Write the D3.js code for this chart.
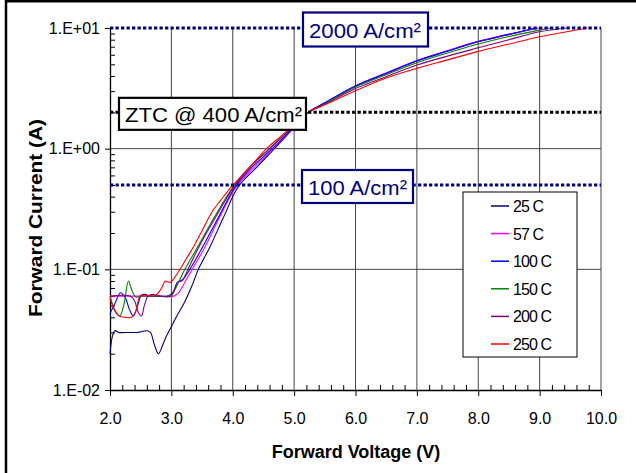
<!DOCTYPE html>
<html>
<head>
<meta charset="utf-8">
<script src="https://cdn.jsdelivr.net/npm/d3@7"></script>
<style>
body { margin: 0; background: #fff; }
text { font-family: "Liberation Sans", Arial, sans-serif; }
</style>
</head>
<body>
<div id="chart"></div>
<script>
// forward I-V curves, one pair of arrays per temperature
var volts25 = [2.0, 2.04, 2.08, 2.15, 2.3, 2.45, 2.6, 2.66, 2.72, 2.79, 2.85, 2.92, 3.0, 3.1, 3.2, 3.33, 3.44, 3.63, 3.85, 4.09, 4.4, 4.68, 5.0, 5.23, 5.5, 6.0, 6.5, 7.0, 7.5, 8.0, 8.5, 8.95];
var amps25 = [0.020, 0.028, 0.031, 0.030, 0.030, 0.030, 0.031, 0.030, 0.024, 0.020, 0.023, 0.028, 0.0335, 0.042, 0.0515, 0.072, 0.100, 0.154, 0.270, 0.484, 0.710, 1.00, 1.50, 2.00, 2.38, 3.30, 4.20, 5.33, 6.41, 7.70, 8.83, 10.0];

var volts57 = [2.0, 2.3, 2.6, 2.9, 3.04, 3.12, 3.2, 3.34, 3.55, 3.8, 4.06, 4.35, 4.66, 5.0, 5.23, 5.5, 6.0, 6.5, 7.0, 7.5, 8.0, 8.5, 9.0];
var amps57 = [0.060, 0.060, 0.060, 0.060, 0.060, 0.064, 0.075, 0.100, 0.154, 0.280, 0.484, 0.700, 1.00, 1.50, 2.00, 2.40, 3.32, 4.25, 5.38, 6.50, 7.75, 8.90, 10.0];

var volts100 = [2.0, 2.08, 2.17, 2.25, 2.32, 2.38, 2.45, 2.51, 2.57, 2.65, 2.8, 2.95, 3.03, 3.1, 3.18, 3.3, 3.5, 3.75, 4.04, 4.3, 4.64, 5.0, 5.23, 5.5, 6.0, 6.5, 7.0, 7.5, 8.0, 8.5, 8.95];
var amps100 = [0.043, 0.052, 0.064, 0.058, 0.046, 0.041, 0.050, 0.061, 0.062, 0.060, 0.060, 0.060, 0.065, 0.078, 0.082, 0.100, 0.150, 0.260, 0.484, 0.690, 1.00, 1.50, 2.00, 2.40, 3.31, 4.22, 5.35, 6.45, 7.72, 8.86, 10.0];

var volts150 = [2.0, 2.08, 2.16, 2.23, 2.3, 2.36, 2.42, 2.5, 2.7, 2.95, 3.02, 3.1, 3.22, 3.43, 3.7, 4.01, 4.3, 4.6, 5.0, 5.23, 5.5, 6.0, 6.5, 7.0, 7.5, 8.0, 8.5, 9.0, 9.17];
var amps150 = [0.060, 0.046, 0.041, 0.052, 0.080, 0.066, 0.059, 0.060, 0.060, 0.060, 0.063, 0.075, 0.100, 0.154, 0.270, 0.484, 0.720, 1.00, 1.55, 2.00, 2.36, 3.25, 4.10, 5.15, 6.20, 7.36, 8.50, 9.60, 10.0];

var volts200 = [2.0, 2.33, 2.4, 2.46, 2.51, 2.56, 2.62, 2.7, 2.8, 3.0, 3.05, 3.1, 3.18, 3.27, 3.45, 3.72, 4.02, 4.3, 4.6, 5.0, 5.23, 5.5, 6.0, 6.5, 7.0, 7.5, 8.0, 8.5, 9.0, 9.44];
var amps200 = [0.060, 0.060, 0.055, 0.044, 0.041, 0.050, 0.060, 0.062, 0.060, 0.060, 0.068, 0.078, 0.081, 0.100, 0.154, 0.270, 0.484, 0.720, 1.00, 1.55, 2.00, 2.33, 3.15, 3.95, 4.93, 5.85, 6.85, 8.00, 9.30, 10.0];

var volts250 = [2.0, 2.08, 2.15, 2.25, 2.35, 2.42, 2.49, 2.6, 2.73, 2.84, 2.9, 2.98, 3.05, 3.14, 3.25, 3.36, 3.5, 3.68, 3.8, 3.98, 4.2, 4.4, 4.55, 4.8, 5.0, 5.23, 5.5, 6.0, 6.5, 7.0, 7.5, 8.0, 8.5, 9.0, 9.4, 9.78];
var amps250 = [0.058, 0.045, 0.041, 0.040, 0.040, 0.045, 0.060, 0.061, 0.060, 0.070, 0.080, 0.078, 0.085, 0.100, 0.124, 0.154, 0.209, 0.310, 0.371, 0.484, 0.641, 0.826, 1.00, 1.29, 1.58, 2.00, 2.31, 3.02, 3.85, 4.63, 5.44, 6.40, 7.36, 8.47, 9.22, 10.0];

var seriesNames = ["25 C", "57 C", "100 C", "150 C", "200 C", "250 C"];
var seriesColors = ["#000080", "#ff00ff", "#0000ff", "#008000", "#800080", "#ff0000"];

var xTicks = [2, 3, 4, 5, 6, 7, 8, 9, 10];
var xTickLabels = ["2.0", "3.0", "4.0", "5.0", "6.0", "7.0", "8.0", "9.0", "10.0"];
var yTicks = [0.01, 0.1, 1, 10];
var yTickLabels = ["1.E-02", "1.E-01", "1.E+00", "1.E+01"];

// reference current levels (A) for 2000, 400 (ZTC) and 100 A/cm2
var refAmps = [10, 2, 0.5];
var refLabels = ["2000 A/cm²", "ZTC @ 400 A/cm²", "100 A/cm²"];
var refColors = ["#000080", "#000000", "#000080"];

function gen_vis() {
    var w = 636, h = 473;
    var svg = d3.select("#chart").append("svg")
        .attr("width", w)
        .attr("height", h);

    var x = d3.scaleLinear().domain([2, 10]).range([110, 601]);
    var y = d3.scaleLog().domain([0.01, 10]).range([390, 28]);

    // outer frame (top and left edges only show)
    svg.append("path")
        .attr("d", "M6,473 V1.2 H636")
        .attr("fill", "none")
        .attr("stroke", "#000")
        .attr("stroke-width", 2.5);

    // grid
    svg.append("g").selectAll("line")
        .data(xTicks.slice(1))
        .enter().append("line")
        .attr("x1", function (d) { return x(d); })
        .attr("x2", function (d) { return x(d); })
        .attr("y1", y(10))
        .attr("y2", y(0.01))
        .attr("stroke", "#444")
        .attr("stroke-width", 1);

    svg.append("g").selectAll("line")
        .data([0.1, 1])
        .enter().append("line")
        .attr("x1", x(2))
        .attr("x2", x(10))
        .attr("y1", function (d) { return y(d); })
        .attr("y2", function (d) { return y(d); })
        .attr("stroke", "#444")
        .attr("stroke-width", 1);

    // axes
    var xaxis = d3.axisBottom(x)
        .tickValues(xTicks)
        .tickFormat(function (d, i) { return xTickLabels[i]; })
        .tickSizeInner(6).tickSizeOuter(0).tickPadding(17);
    var gx = svg.append("g")
        .attr("transform", "translate(0,390)")
        .call(xaxis);
    gx.selectAll("text").style("font-size", "16px").attr("fill", "#000");

    var minorX = d3.range(2.2, 10, 0.2).filter(function (d) {
        return Math.abs(d - Math.round(d)) > 0.01;
    });
    svg.append("g")
        .attr("transform", "translate(0,390)")
        .call(d3.axisBottom(x).tickValues(minorX).tickSize(-5).tickFormat(""))
        .select(".domain").remove();

    var yaxis = d3.axisLeft(y)
        .tickValues(yTicks)
        .tickFormat(function (d, i) { return yTickLabels[i]; })
        .tickSizeInner(5).tickSizeOuter(0).tickPadding(5);
    var gy = svg.append("g")
        .attr("transform", "translate(110,0)")
        .call(yaxis);
    gy.selectAll("text").style("font-size", "16px").attr("fill", "#000");

    var minorY = [];
    [0.01, 0.1, 1].forEach(function (d) {
        for (var k = 2; k < 10; k++) minorY.push(d * k);
    });
    svg.append("g")
        .attr("transform", "translate(110,0)")
        .call(d3.axisLeft(y).tickValues(minorY).tickSize(-5).tickFormat(""))
        .select(".domain").remove();

    svg.selectAll(".domain").attr("stroke", "#000").attr("stroke-width", 1.3);

    // curves
    var volts = [volts25, volts57, volts100, volts150, volts200, volts250];
    var amps = [amps25, amps57, amps100, amps150, amps200, amps250];
    var line = d3.line()
        .x(function (d) { return x(d[0]); })
        .y(function (d) { return y(d[1]); })
        .curve(d3.curveCatmullRom.alpha(0.5));

    seriesNames.forEach(function (name, s) {
        var pts = volts[s].map(function (v, i) { return [v, amps[s][i]]; });
        svg.append("path")
            .datum(pts)
            .attr("fill", "none")
            .attr("stroke", seriesColors[s])
            .attr("stroke-width", 1.1)
            .attr("d", line);
    });

    // dotted reference lines
    svg.append("g").selectAll("line")
        .data(refAmps)
        .enter().append("line")
        .attr("x1", x(2))
        .attr("x2", x(10))
        .attr("y1", function (d) { return y(d); })
        .attr("y2", function (d) { return y(d); })
        .attr("stroke", function (d, i) { return refColors[i]; })
        .attr("stroke-width", 3)
        .attr("stroke-dasharray", "3.3,2.2");

    // annotation boxes
    var boxX = [303, 119, 302];
    var boxW = [125, 187, 111];
    var boxH = [34, 32, 33];
    var textW = [112, 177, 99];
    refAmps.forEach(function (a, i) {
        var cy = y(a) + 1.5;
        svg.append("rect")
            .attr("x", boxX[i])
            .attr("y", cy - boxH[i] / 2)
            .attr("width", boxW[i])
            .attr("height", boxH[i])
            .attr("fill", "#fff")
            .attr("stroke", refColors[i])
            .attr("stroke-width", 2.2);
        svg.append("text")
            .attr("x", boxX[i] + 6)
            .attr("y", cy + 8.6)
            .attr("textLength", textW[i])
            .attr("lengthAdjust", "spacingAndGlyphs")
            .style("font-size", "21px")
            .attr("fill", refColors[i])
            .text(refLabels[i]);
    });

    // legend
    var leg = svg.append("g").attr("transform", "translate(463,192)");
    leg.append("rect")
        .attr("width", 114)
        .attr("height", 165)
        .attr("fill", "#fff")
        .attr("stroke", "#000")
        .attr("stroke-width", 1);
    seriesNames.forEach(function (name, i) {
        var ry = 14 + i * 27.6;
        leg.append("line")
            .attr("x1", 28).attr("x2", 46)
            .attr("y1", ry).attr("y2", ry)
            .attr("stroke", seriesColors[i])
            .attr("stroke-width", 1.5);
        leg.append("text")
            .attr("x", 50)
            .attr("y", ry + 6)
            .style("font-size", "16px")
            .style("letter-spacing", "-0.9px")
            .text(name);
    });

    // axis titles
    svg.append("text")
        .attr("x", 356)
        .attr("y", 458)
        .attr("text-anchor", "middle")
        .style("font-size", "18px")
        .style("font-weight", "bold")
        .text("Forward Voltage (V)");

    svg.append("text")
        .attr("transform", "translate(42,218) rotate(-90)")
        .attr("text-anchor", "middle")
        .attr("textLength", 198)
        .attr("lengthAdjust", "spacingAndGlyphs")
        .style("font-size", "19px")
        .style("font-weight", "bold")
        .text("Forward Current (A)");
}

gen_vis();
</script>
</body>
</html>
